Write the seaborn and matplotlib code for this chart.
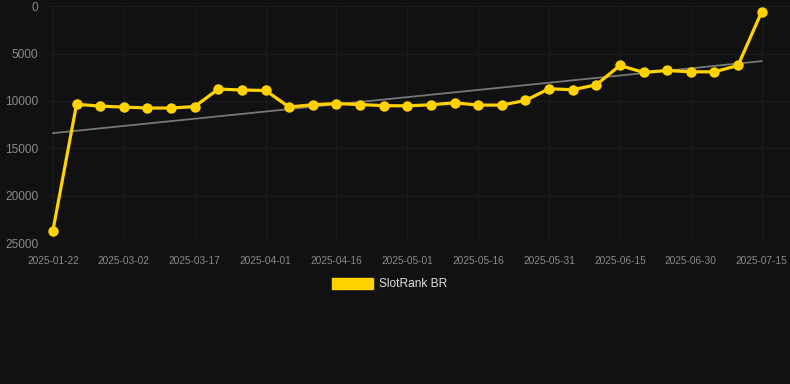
import pandas as pd
import numpy as np
import seaborn as sns
import matplotlib.pyplot as plt
from matplotlib.patches import Patch

# values
dates = ['2025-01-22', '2025-02-20', '2025-02-25', '2025-03-02', '2025-03-07',
         '2025-03-12', '2025-03-17', '2025-03-22', '2025-03-27', '2025-04-01',
         '2025-04-06', '2025-04-11', '2025-04-16', '2025-04-21', '2025-04-26',
         '2025-05-01', '2025-05-06', '2025-05-11', '2025-05-16', '2025-05-21',
         '2025-05-26', '2025-05-31', '2025-06-05', '2025-06-10', '2025-06-15',
         '2025-06-20', '2025-06-25', '2025-06-30', '2025-07-05', '2025-07-10',
         '2025-07-15']
rank = [23700, 10350, 10550, 10650, 10750, 10750, 10600, 8750, 8850, 8900,
        10650, 10400, 10280, 10380, 10500, 10520, 10410, 10200, 10440, 10440,
        9950, 8720, 8820, 8300, 6260, 6990, 6790, 6930, 6930, 6260, 600]
trend_start = 13400
trend_end = 5800
series_name = 'SlotRank BR'

bg = '#111111'
yellow = '#FFD200'

sns.set_theme(style='dark')
plt.rcParams['font.family'] = ['Liberation Sans', 'DejaVu Sans']

# dates are spaced evenly in the chart, so use the position as x
df = pd.DataFrame({'pos': np.arange(len(dates)), 'date': dates, 'rank': rank})

fig = plt.figure(figsize=(7.9, 3.84), dpi=100, facecolor=bg)
ax = fig.add_axes([0.061, 0.367, 0.939, 0.617])
ax.set_facecolor(bg)

# trend line from first to last point
ax.plot([df['pos'].iloc[0], df['pos'].iloc[-1]], [trend_start, trend_end],
        color='#777777', lw=1.3, zorder=2)

sns.lineplot(data=df, x='pos', y='rank', color=yellow, lw=2.3, marker='o',
             markersize=7.5, markeredgewidth=0, ax=ax, zorder=3)

ax.set_ylim(25000, 0)
ax.set_xlim(-0.2, 31.2)
ax.set_yticks([0, 5000, 10000, 15000, 20000, 25000])
ax.set_xticks(df['pos'][::3])
ax.set_xticklabels(dates[::3])

ax.grid(True, color='#1c1c1c', lw=0.8)
for s in ax.spines.values():
    s.set_visible(False)

ax.tick_params(axis='x', colors='#1c1c1c', labelcolor='#8a8a8a', labelsize=7.3,
               length=8, width=0.8, pad=1)
ax.tick_params(axis='y', colors='#1c1c1c', labelcolor='#8a8a8a', labelsize=8.6,
               length=4, width=0.8, pad=3)
ax.set_xlabel('')
ax.set_ylabel('')

handle = Patch(facecolor=yellow, edgecolor=yellow, label=series_name)
fig.legend(handles=[handle], loc='center', bbox_to_anchor=(0.493, 0.26),
           frameon=False, fontsize=8.6, labelcolor='#dddddd',
           handlelength=3.4, handleheight=1.0, handletextpad=0.5)

fig.savefig('out.png', dpi=100, facecolor=bg)
